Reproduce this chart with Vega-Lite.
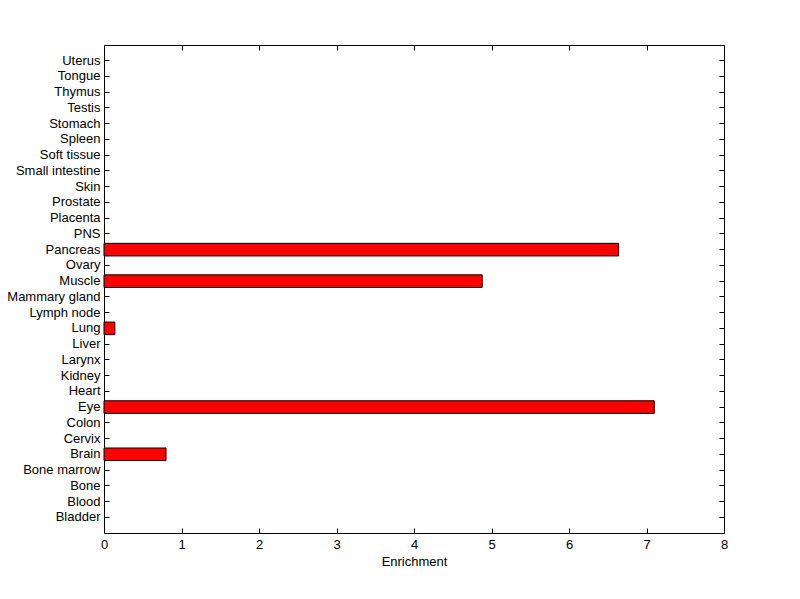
{
  "$schema": "https://vega.github.io/schema/vega-lite/v6.json",
  "width": 620,
  "height": 488,
  "autosize": {"type": "none"},
  "padding": {"left": 104, "top": 45, "right": 76, "bottom": 66},
  "background": "white",
  "config": {
    "view": {"stroke": "black", "strokeWidth": 1},
    "font": "Liberation Sans",
    "axis": {
      "labelFont": "Liberation Sans",
      "labelFontSize": 13,
      "labelColor": "black",
      "titleFont": "Liberation Sans",
      "titleFontSize": 13,
      "titleFontWeight": "normal",
      "titleColor": "black",
      "domainColor": "black",
      "tickColor": "black",
      "grid": false,
      "labelOverlap": false,
      "labelFlush": false
    }
  },
  "data": {
    "values": [
      {"tissue": "Bladder", "value": 0},
      {"tissue": "Blood", "value": 0},
      {"tissue": "Bone", "value": 0},
      {"tissue": "Bone marrow", "value": 0},
      {"tissue": "Brain", "value": 0.8},
      {"tissue": "Cervix", "value": 0},
      {"tissue": "Colon", "value": 0},
      {"tissue": "Eye", "value": 7.1},
      {"tissue": "Heart", "value": 0},
      {"tissue": "Kidney", "value": 0},
      {"tissue": "Larynx", "value": 0},
      {"tissue": "Liver", "value": 0},
      {"tissue": "Lung", "value": 0.14},
      {"tissue": "Lymph node", "value": 0},
      {"tissue": "Mammary gland", "value": 0},
      {"tissue": "Muscle", "value": 4.88},
      {"tissue": "Ovary", "value": 0},
      {"tissue": "Pancreas", "value": 6.64},
      {"tissue": "PNS", "value": 0},
      {"tissue": "Placenta", "value": 0},
      {"tissue": "Prostate", "value": 0},
      {"tissue": "Skin", "value": 0},
      {"tissue": "Small intestine", "value": 0},
      {"tissue": "Soft tissue", "value": 0},
      {"tissue": "Spleen", "value": 0},
      {"tissue": "Stomach", "value": 0},
      {"tissue": "Testis", "value": 0},
      {"tissue": "Thymus", "value": 0},
      {"tissue": "Tongue", "value": 0},
      {"tissue": "Uterus", "value": 0}
    ]
  },
  "layer": [
    {
      "mark": {"type": "bar", "fill": "#ff0000", "stroke": "black", "strokeWidth": 1},
      "transform": [{"filter": "datum.value > 0"}],
      "encoding": {
        "x": {
          "field": "value",
          "type": "quantitative",
          "scale": {"domain": [0, 8], "nice": false, "zero": true},
          "axis": {
            "orient": "bottom",
            "title": "Enrichment",
            "values": [0, 1, 2, 3, 4, 5, 6, 7, 8],
            "format": "d",
            "tickSize": -5,
            "labelPadding": 10,
            "titlePadding": 4,
            "domain": false
          }
        },
        "y": {
          "field": "tissue",
          "type": "nominal",
          "scale": {
            "domain": ["Uterus", "Tongue", "Thymus", "Testis", "Stomach", "Spleen", "Soft tissue", "Small intestine", "Skin", "Prostate", "Placenta", "PNS", "Pancreas", "Ovary", "Muscle", "Mammary gland", "Lymph node", "Lung", "Liver", "Larynx", "Kidney", "Heart", "Eye", "Colon", "Cervix", "Brain", "Bone marrow", "Bone", "Blood", "Bladder"],
            "paddingInner": 0.2,
            "paddingOuter": 0.6
          },
          "axis": {
            "orient": "left",
            "title": null,
            "tickBand": "center",
            "tickSize": -5,
            "labelPadding": 9,
            "domain": false
          }
        }
      }
    },
    {
      "mark": {"type": "bar", "opacity": 0},
      "transform": [{"filter": "datum.value > 0"}],
      "encoding": {
        "x": {
          "field": "value",
          "type": "quantitative",
          "scale": {"domain": [0, 8], "nice": false, "zero": true},
          "axis": {
            "orient": "top",
            "title": null,
            "values": [0, 1, 2, 3, 4, 5, 6, 7, 8],
            "labels": false,
            "tickSize": -5,
            "domain": false
          }
        },
        "y": {
          "field": "tissue",
          "type": "nominal",
          "scale": {
            "domain": ["Uterus", "Tongue", "Thymus", "Testis", "Stomach", "Spleen", "Soft tissue", "Small intestine", "Skin", "Prostate", "Placenta", "PNS", "Pancreas", "Ovary", "Muscle", "Mammary gland", "Lymph node", "Lung", "Liver", "Larynx", "Kidney", "Heart", "Eye", "Colon", "Cervix", "Brain", "Bone marrow", "Bone", "Blood", "Bladder"],
            "paddingInner": 0.2,
            "paddingOuter": 0.6
          },
          "axis": {
            "orient": "right",
            "title": null,
            "tickBand": "center",
            "labels": false,
            "tickSize": -5,
            "domain": false
          }
        }
      }
    }
  ],
  "resolve": {"axis": {"x": "independent", "y": "independent"}}
}
